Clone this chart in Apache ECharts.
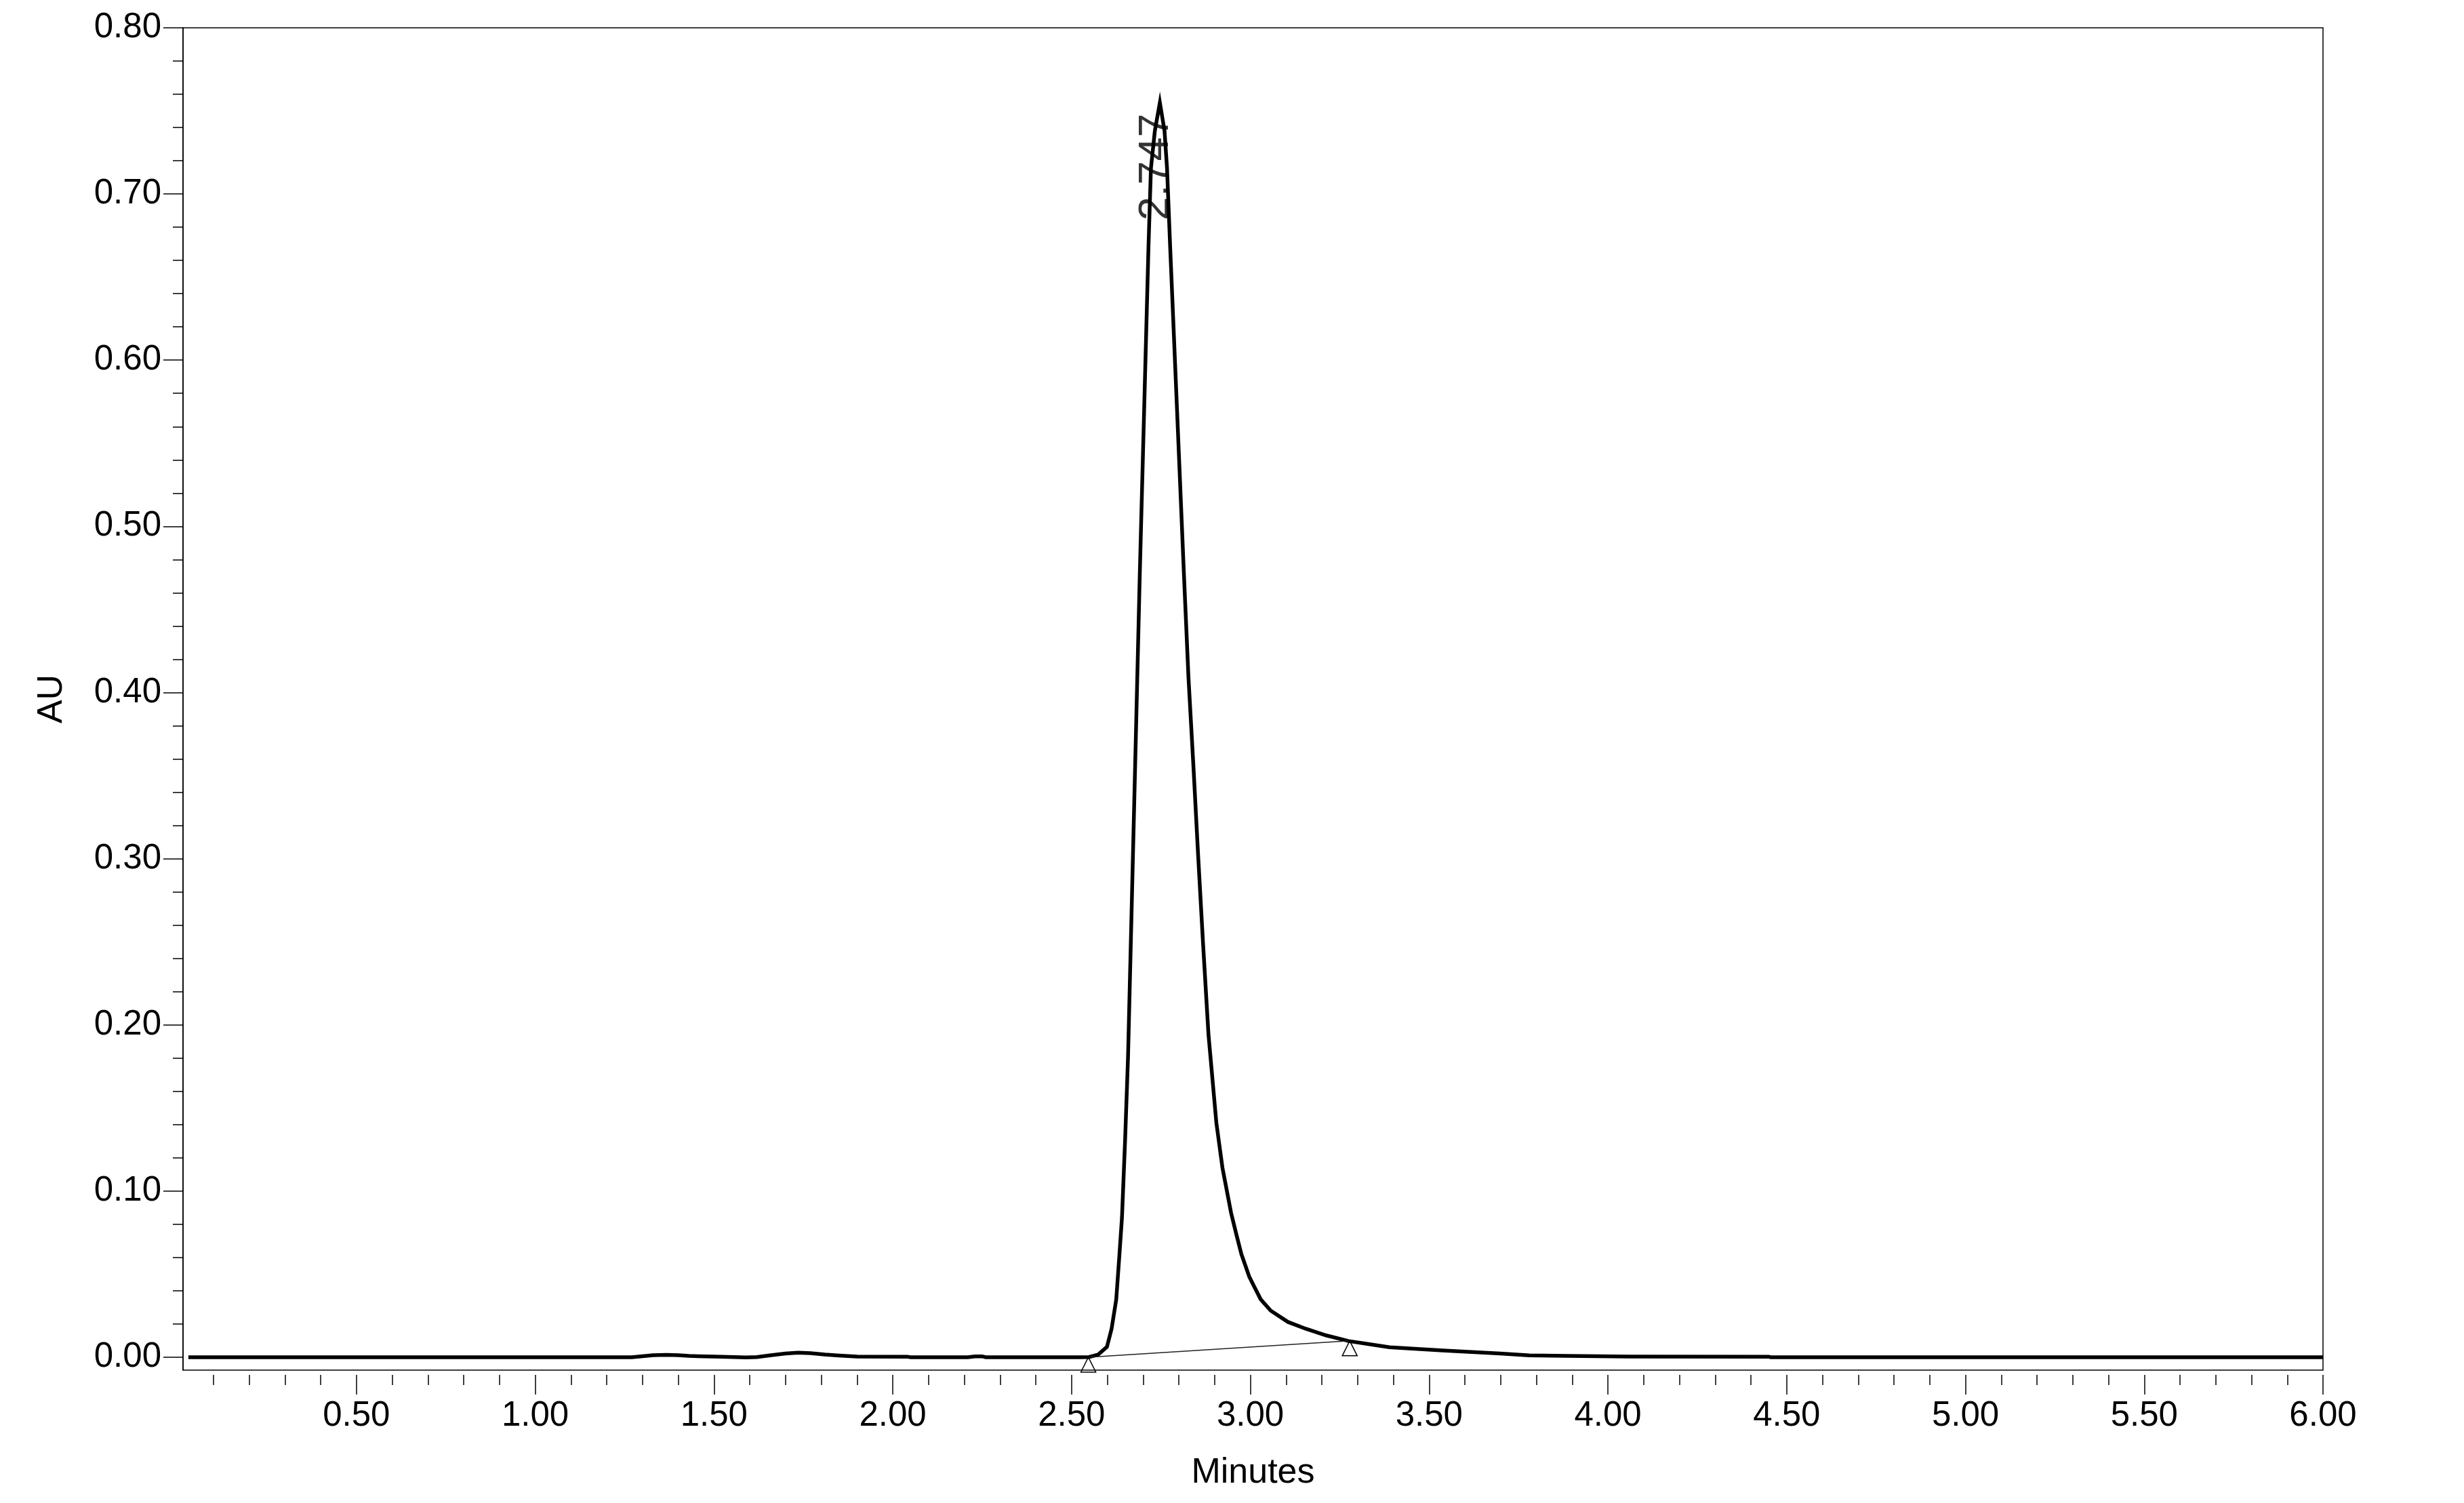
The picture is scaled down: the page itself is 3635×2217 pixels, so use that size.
<!DOCTYPE html>
<html><head><meta charset="utf-8">
<script src="https://cdn.jsdelivr.net/npm/echarts@6/dist/echarts.min.js"></script>
<style>html,body{margin:0;padding:0;background:#fff;overflow:hidden}#c{width:3635px;height:2217px}</style>
</head><body><div id="c"></div>
<script>
// Chromatogram trace: retention time (min) and absorbance (AU)
const times = [0.03, 1.27, 1.30, 1.33, 1.367, 1.40, 1.43, 1.455, 1.52, 1.59, 1.62, 1.66, 1.70, 1.735, 1.77, 1.81, 1.85, 1.90, 2.04, 2.05, 2.21, 2.23, 2.25, 2.26, 2.52,
  2.549, 2.574, 2.599, 2.612, 2.625, 2.634, 2.641, 2.650, 2.658, 2.669, 2.680, 2.691, 2.703, 2.715, 2.722, 2.733, 2.747,
  2.760, 2.767, 2.776, 2.795, 2.814, 2.827, 2.841, 2.854, 2.868, 2.883, 2.905, 2.922, 2.946, 2.961, 2.975, 2.997, 3.013, 3.029, 3.057,
  3.105, 3.155, 3.212, 3.275, 3.339, 3.389, 3.538, 3.699, 3.78, 3.886, 4.06, 4.45, 4.455, 6.00];
const absorbance = [0.0, 0.0, 0.0006, 0.0012, 0.0014, 0.0012, 0.0008, 0.0006, 0.0003, -0.0002, 0.0001, 0.0012, 0.0022, 0.0027, 0.0024, 0.0016, 0.0010, 0.0004, 0.0003, 0.0, 0.0, 0.0005, 0.0005, 0.0, 0.0,
  0.0001, 0.0015, 0.0062, 0.0171, 0.0348, 0.062, 0.084, 0.132, 0.181, 0.278, 0.375, 0.4725, 0.570, 0.667, 0.7155, 0.738, 0.755,
  0.738, 0.7155, 0.667, 0.570, 0.4725, 0.409, 0.355, 0.302, 0.248, 0.194, 0.141, 0.114, 0.087, 0.0738, 0.062, 0.0484, 0.0416, 0.0348, 0.0280,
  0.0212, 0.0171, 0.0131, 0.0097, 0.0076, 0.0060, 0.0040, 0.0022, 0.0011, 0.0008, 0.0004, 0.0003, 0.0, 0.0];
// Integrated peak
const peakTimes = [2.747];
const peakHeights = [0.755];
// Integration baseline (start / end markers)
const baselineTimes = [2.547, 3.278];
const baselineValues = [0.0, 0.0098];
// Axis tick labels
const yTickLabels = ['0.00','0.10','0.20','0.30','0.40','0.50','0.60','0.70','0.80'];
const xTickLabels = ['0.50','1.00','1.50','2.00','2.50','3.00','3.50','4.00','4.50','5.00','5.50','6.00'];
const xMinorStep = 0.1;
const yMinorStep = 0.02;
const xRange = [0.015, 6.0];
const yRange = [-0.0078, 0.8];

const yMajor = yTickLabels.map(Number);
const xMajor = xTickLabels.map(Number);
const xMinor = [];
for (let i = 1; i * xMinorStep <= xRange[1] + 1e-9; i++) xMinor.push(+(i * xMinorStep).toFixed(2));
const yMinor = [];
for (let i = 0; i * yMinorStep <= yRange[1] + 1e-9; i++) yMinor.push(+(i * yMinorStep).toFixed(2));

const FONT = 'Liberation Sans, Arial, Helvetica, sans-serif';
const black = '#000';

const chart = echarts.init(document.getElementById('c'), null, {renderer: 'canvas', width: 3635, height: 2217});
chart.setOption({
  animation: false,
  backgroundColor: '#fff',
  grid: {left: 270, top: 41, right: 208, bottom: 196, show: true, borderColor: black, borderWidth: 1.5, backgroundColor: 'transparent'},
  xAxis: [
    {type: 'value', min: xRange[0], max: xRange[1], position: 'bottom', offset: 7,
     axisLine: {show: false, onZero: false}, splitLine: {show: false},
     axisTick: {show: true, length: 29, customValues: xMajor, lineStyle: {color: black, width: 1.5}},
     axisLabel: {customValues: xMajor, formatter: v => v.toFixed(2), fontSize: 51, color: black, fontFamily: FONT, margin: 35},
     name: 'Minutes', nameLocation: 'middle', nameGap: 119,
     nameTextStyle: {fontSize: 52, color: black, fontFamily: FONT}},
    {type: 'value', min: xRange[0], max: xRange[1], position: 'bottom', offset: 7,
     axisLine: {show: false, onZero: false}, splitLine: {show: false},
     axisTick: {show: true, length: 15, customValues: xMinor, lineStyle: {color: black, width: 1.5}},
     axisLabel: {show: false}}
  ],
  yAxis: [
    {type: 'value', min: yRange[0], max: yRange[1], position: 'left',
     axisLine: {show: true, onZero: false, lineStyle: {color: black, width: 1.5}}, splitLine: {show: false},
     axisTick: {show: true, length: 29, customValues: yMajor, lineStyle: {color: black, width: 1.5}},
     axisLabel: {customValues: yMajor, formatter: v => v.toFixed(2), fontSize: 51, color: black, fontFamily: FONT, margin: 32},
     name: 'AU', nameLocation: 'middle', nameGap: 167,
     nameTextStyle: {fontSize: 52, color: black, fontFamily: FONT}},
    {type: 'value', min: yRange[0], max: yRange[1], position: 'left',
     axisLine: {show: false, onZero: false}, splitLine: {show: false},
     axisTick: {show: true, length: 15, customValues: yMinor, lineStyle: {color: black, width: 1.5}},
     axisLabel: {show: false}}
  ],
  series: [
    {type: 'line', xAxisIndex: 0, yAxisIndex: 0, z: 3,
     data: times.map((t, i) => [t, absorbance[i]]),
     showSymbol: false, smooth: false,
     lineStyle: {color: black, width: 5.5, join: 'miter', miterLimit: 20},
     itemStyle: {color: black}, emphasis: {disabled: true}},
    {type: 'line', xAxisIndex: 0, yAxisIndex: 0, z: 4, clip: false,
     data: baselineTimes.map((t, i) => [t, baselineValues[i]]),
     symbol: 'triangle', symbolSize: [22, 22], symbolOffset: [0, 11], showSymbol: true,
     itemStyle: {color: 'rgba(0,0,0,0)', borderColor: black, borderWidth: 1.5},
     lineStyle: {color: '#222', width: 1.5}, emphasis: {disabled: true}},
    {type: 'scatter', xAxisIndex: 0, yAxisIndex: 0, z: 5,
     data: peakTimes.map((t, i) => [t, peakHeights[i]]),
     symbolSize: 1, itemStyle: {color: 'rgba(0,0,0,0)'},
     label: {show: true, formatter: p => p.value[0].toFixed(3), rotate: 90, position: 'inside',
             offset: [-95, -5], fontSize: 63, color: black, fontFamily: FONT},
     emphasis: {disabled: true}}
  ]
});
</script></body></html>
